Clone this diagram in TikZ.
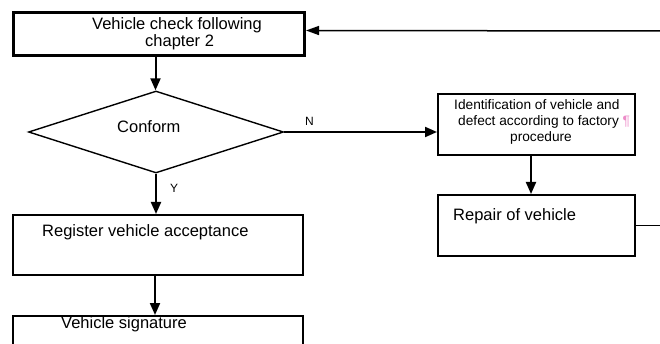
\documentclass[tikz,border=0pt]{standalone}
\usepackage{fontspec}
\setmainfont{Liberation Sans}
\usetikzlibrary{arrows.meta,shapes.geometric}
\definecolor{pilcrow}{RGB}{236,140,200}
\begin{document}
\begin{tikzpicture}[x=1pt,y=-1pt,
  box/.style={draw,line width=2pt,inner sep=0pt,anchor=north west},
  arr/.style={line width=2pt,-{Triangle[length=12pt,width=10pt]}},
  txt/.style={inner sep=0pt,font=\fontsize{16.5}{18}\selectfont,anchor=base west},
  stxt/.style={inner sep=0pt,font=\fontsize{13.7}{16}\selectfont,anchor=base west},
  ltxt/.style={inner sep=0pt,font=\fontsize{12}{14}\selectfont,anchor=base west},
]
\useasboundingbox (0,0) rectangle (660,344);
\clip (0,0) rectangle (660,344);
% boxes
\node[box,line width=3pt,minimum width=291pt,minimum height=43pt] (check) at (12,11) {};
\node[draw,diamond,line width=1.4pt,minimum width=255pt,minimum height=82pt,inner sep=0pt] (dia) at (156,132) {};
\node[box,minimum width=197pt,minimum height=61pt] (ident) at (437,93) {};
\node[box,minimum width=197pt,minimum height=61pt] (rep) at (437,194) {};
\node[box,minimum width=290pt,minimum height=60pt] (reg) at (12,214) {};
\node[box,minimum width=290pt,minimum height=60pt] (sig) at (12,315) {};
% texts
\node[txt] (t1) at (92,30) {Vehicle check following};
\node[txt] (t2) at (145,47) {chapter 2};
\node[txt] (tc) at (117,133) {Conform};
\node[stxt] (i1) at (454,110) {Identification of vehicle and};
\node[stxt] (i2) at (458,126) {defect according to factory {\color{pilcrow}¶}};
\node[stxt,anchor=base] (i3) at (541,142) {procedure};
\node[txt] (tr) at (453,221) {Repair of vehicle};
\node[txt] (tg) at (42,237) {Register vehicle acceptance};
\node[txt] (ts) at (61,328) {Vehicle signature};
\node[ltxt] (ln) at (305,126) {N};
\node[ltxt] (ly) at (170,193) {Y};
% connectors
\draw[arr] ([xshift=-3.5pt]check.south) -- ([xshift=-3.5pt]check.south |- dia.north);
\draw[arr] (dia.east) -- (dia.east -| ident.west);
\draw[arr] (dia.south) -- (dia.south |- reg.north);
\draw[arr] ([xshift=-3pt]reg.south) -- ([xshift=-3pt]reg.south |- sig.north);
\draw[arr] ([xshift=-5.5pt]ident.south) -- ([xshift=-5.5pt]ident.south |- rep.north);
\coordinate (rend) at (662,224.5);
\draw[line width=1pt] (rep.east) -- (rep.east -| rend);
\coordinate (tend) at (662,31);
\draw[line width=1.5pt,-{Triangle[length=13pt,width=9pt]}] (tend) -- ([yshift=3.5pt]check.east);
\end{tikzpicture}
\end{document}
